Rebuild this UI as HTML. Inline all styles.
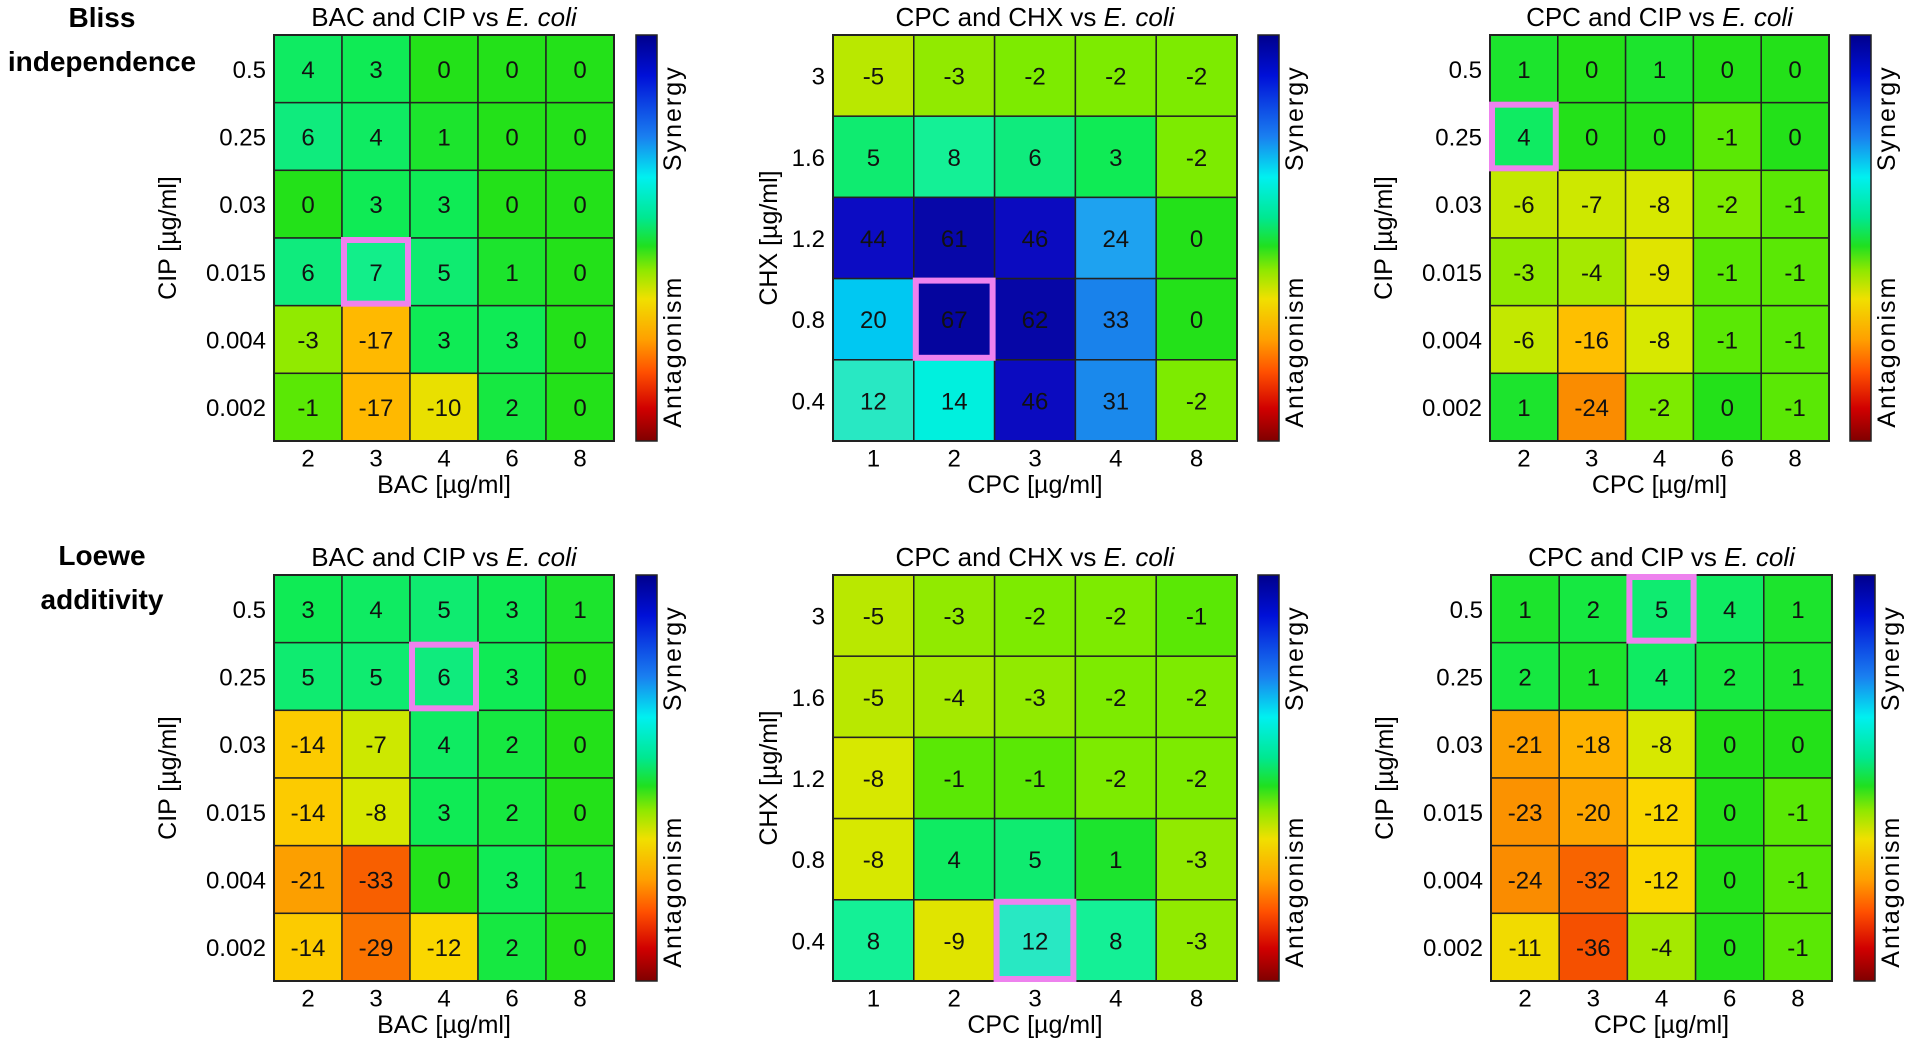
<!DOCTYPE html>
<html><head><meta charset="utf-8"><style>
html,body{margin:0;padding:0;background:#fff;}
svg{display:block;font-family:"Liberation Sans",sans-serif;}
</style></head><body>
<svg id="fig" width="1908" height="1042" viewBox="0 0 1908 1042" xmlns="http://www.w3.org/2000/svg">
<defs>
<linearGradient id="cbgrad" x1="0" y1="0" x2="0" y2="1">
<stop offset="0" stop-color="#00008c"/>
<stop offset="0.1" stop-color="#0010d8"/>
<stop offset="0.25" stop-color="#1a7ff0"/>
<stop offset="0.35" stop-color="#00f0f0"/>
<stop offset="0.45" stop-color="#00e890"/>
<stop offset="0.52" stop-color="#20e020"/>
<stop offset="0.58" stop-color="#90e800"/>
<stop offset="0.65" stop-color="#f0e000"/>
<stop offset="0.75" stop-color="#ffa000"/>
<stop offset="0.83" stop-color="#ff5000"/>
<stop offset="0.92" stop-color="#d00000"/>
<stop offset="1" stop-color="#800000"/>
</linearGradient>
</defs>
<g id="root"></g>
</svg>
<script>
// ---- data ----
const bacDoses = ["2","3","4","6","8"];
const cpcDosesA = ["1","2","3","4","8"];
const cpcDosesB = ["2","3","4","6","8"];
const cipDoses = ["0.5","0.25","0.03","0.015","0.004","0.002"];
const chxDoses = ["3","1.6","1.2","0.8","0.4"];
const blissBacCip = [[4,3,0,0,0],[6,4,1,0,0],[0,3,3,0,0],[6,7,5,1,0],[-3,-17,3,3,0],[-1,-17,-10,2,0]];
const blissCpcChx = [[-5,-3,-2,-2,-2],[5,8,6,3,-2],[44,61,46,24,0],[20,67,62,33,0],[12,14,46,31,-2]];
const blissCpcCip = [[1,0,1,0,0],[4,0,0,-1,0],[-6,-7,-8,-2,-1],[-3,-4,-9,-1,-1],[-6,-16,-8,-1,-1],[1,-24,-2,0,-1]];
const loeweBacCip = [[3,4,5,3,1],[5,5,6,3,0],[-14,-7,4,2,0],[-14,-8,3,2,0],[-21,-33,0,3,1],[-14,-29,-12,2,0]];
const loeweCpcChx = [[-5,-3,-2,-2,-1],[-5,-4,-3,-2,-2],[-8,-1,-1,-2,-2],[-8,4,5,1,-3],[8,-9,12,8,-3]];
const loeweCpcCip = [[1,2,5,4,1],[2,1,4,2,1],[-21,-18,-8,0,0],[-23,-20,-12,0,-1],[-24,-32,-12,0,-1],[-11,-36,-4,0,-1]];
const highlights = [[3,1],[3,1],[1,0],[1,2],[4,2],[0,2]];

// colormap stops (value -> rgb)
const cmap = [[-70,[128,0,0]],[-45,[215,0,0]],[-36,[245,80,0]],[-30,[250,110,0]],[-24,[250,140,0]],[-17,[255,185,0]],[-12,[250,215,0]],[-8,[215,232,0]],[-5,[185,232,0]],[-2,[125,235,0]],[-1,[90,232,5]],[0,[35,225,25]],[3,[15,235,85]],[6,[15,235,125]],[8,[20,240,150]],[12,[40,232,195]],[14,[0,240,222]],[20,[0,200,242]],[24,[30,162,240]],[33,[25,130,235]],[44,[12,12,195]],[50,[10,10,185]],[67,[5,5,158]]];
function color(v){
  if(v<=cmap[0][0]) return `rgb(${cmap[0][1]})`;
  for(let i=1;i<cmap.length;i++){
    if(v<=cmap[i][0]){
      const [a,ca]=cmap[i-1],[b,cb]=cmap[i];const t=(v-a)/(b-a);
      return `rgb(${ca.map((c,k)=>Math.round(c+(cb[k]-c)*t)).join(',')})`;
    }
  }
  return `rgb(${cmap[cmap.length-1][1]})`;
}
const NS="http://www.w3.org/2000/svg";
const root=document.getElementById('root');
function mk(tag,attrs,parent,text){const e=document.createElementNS(NS,tag);for(const k in attrs)e.setAttribute(k,attrs[k]);if(text!==undefined)e.textContent=text;(parent||root).appendChild(e);return e;}

const panels=[
 {id:'bliss-bac-cip',title:'BAC and CIP vs ',x0:274,x1:614,y0:35,y1:441,cb:636,vals:blissBacCip,xs:bacDoses,ys:cipDoses,xl:'BAC [µg/ml]',yl:'CIP [µg/ml]',hl:highlights[0]},
 {id:'bliss-cpc-chx',title:'CPC and CHX vs ',x0:833,x1:1237,y0:35,y1:441,cb:1258,vals:blissCpcChx,xs:cpcDosesA,ys:chxDoses,xl:'CPC [µg/ml]',yl:'CHX [µg/ml]',hl:highlights[1]},
 {id:'bliss-cpc-cip',title:'CPC and CIP vs ',x0:1490,x1:1829,y0:35,y1:441,cb:1850,vals:blissCpcCip,xs:cpcDosesB,ys:cipDoses,xl:'CPC [µg/ml]',yl:'CIP [µg/ml]',hl:highlights[2]},
 {id:'loewe-bac-cip',title:'BAC and CIP vs ',x0:274,x1:614,y0:575,y1:981,cb:636,vals:loeweBacCip,xs:bacDoses,ys:cipDoses,xl:'BAC [µg/ml]',yl:'CIP [µg/ml]',hl:highlights[3]},
 {id:'loewe-cpc-chx',title:'CPC and CHX vs ',x0:833,x1:1237,y0:575,y1:981,cb:1258,vals:loeweCpcChx,xs:cpcDosesA,ys:chxDoses,xl:'CPC [µg/ml]',yl:'CHX [µg/ml]',hl:highlights[4]},
 {id:'loewe-cpc-cip',title:'CPC and CIP vs ',x0:1491,x1:1832,y0:575,y1:981,cb:1854,vals:loeweCpcCip,xs:cpcDosesB,ys:cipDoses,xl:'CPC [µg/ml]',yl:'CIP [µg/ml]',hl:highlights[5]},
];

panels.forEach(p=>{
  const g=mk('g',{});
  
  
  const nr=p.vals.length,nc=p.xs.length;
  const cw=(p.x1-p.x0)/nc,ch=(p.y1-p.y0)/nr;
  const xc=j=>p.x0+cw*(j+0.5), yc=i=>p.y0+ch*(i+0.5);
  const cx=(p.x0+p.x1)/2, cy=(p.y0+p.y1)/2;
  const t=mk('text',{x:cx,y:p.y0-9,'text-anchor':'middle','font-size':26},g);
  
  
  mk('tspan',{},t,p.title);mk('tspan',{'font-style':'italic'},t,'E. coli');
  p.vals.forEach((row,i)=>row.forEach((v,j)=>{
    const r=mk('rect',{x:p.x0+cw*j,y:p.y0+ch*i,width:cw,height:ch,fill:color(v),stroke:'#222','stroke-width':1.5},g);
    
    
    const tx=mk('text',{x:xc(j),y:yc(i)+9,'text-anchor':'middle','font-size':24,fill:'#111'},g,String(v));
    
    
  }));
  mk('rect',{x:p.x0,y:p.y0,width:p.x1-p.x0,height:p.y1-p.y0,fill:'none',stroke:'#222','stroke-width':2},g);
  const [hi,hj]=p.hl;
  const h=mk('rect',{x:p.x0+cw*hj+2,y:p.y0+ch*hi+2,width:cw-4,height:ch-4,fill:'none',stroke:'#ee82ee','stroke-width':6},g);
  
  
  p.xs.forEach((s,j)=>{const e=mk('text',{x:xc(j),y:p.y1+19,'text-anchor':'middle','font-size':24,'dominant-baseline':'middle'},g,s);
    
    });
  p.ys.forEach((s,i)=>{const e=mk('text',{x:p.x0-8,y:yc(i)+9,'text-anchor':'end','font-size':24},g,s);
    
    });
  const xt=mk('text',{x:cx,y:p.y1+52,'text-anchor':'middle','font-size':25},g,p.xl);
  
  
  const yx = p.x0 - (p.ys===cipDoses?98:56);
  const yt=mk('text',{x:yx,y:cy,'text-anchor':'middle','font-size':25,transform:`rotate(-90 ${yx} ${cy})`},g,p.yl);
  
  
  const cb=mk('rect',{x:p.cb,y:p.y0,width:21,height:p.y1-p.y0,fill:'url(#cbgrad)',stroke:'#222','stroke-width':1.5},g);
  
  
  const lx=p.cb+45;
  const sy=p.y0+(p.y1-p.y0)*0.205, ay=p.y0+(p.y1-p.y0)*0.78;
  const s1=mk('text',{x:lx,y:sy,'text-anchor':'middle','font-size':25,'letter-spacing':2,transform:`rotate(-90 ${lx} ${sy})`},g,'Synergy');
  
  
  const s2=mk('text',{x:lx,y:ay,'text-anchor':'middle','font-size':25,'letter-spacing':2,transform:`rotate(-90 ${lx} ${ay})`},g,'Antagonism');
  
  
});
[['Bliss',27,'bliss-label-line1'],['independence',71,'bliss-label-line2'],['Loewe',565,'loewe-label-line1'],['additivity',609,'loewe-label-line2']].forEach(([s,y,n])=>{
  const e=mk('text',{x:102,y:y,'text-anchor':'middle','font-size':28,'font-weight':'bold'},root,s);
  
  
});
</script>
</body></html>
